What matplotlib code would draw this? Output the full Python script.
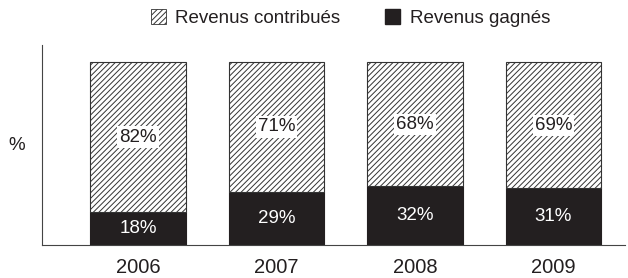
import matplotlib.pyplot as plt
import matplotlib.patches as mpatches
import numpy as np

plt.rcParams['font.family'] = ['Liberation Sans', 'DejaVu Sans']
plt.rcParams['hatch.linewidth'] = 0.7

years = ['2006', '2007', '2008', '2009']
gagnes = [18, 29, 32, 31]
contribues = [82, 71, 68, 69]
dark = '#231f20'

fig = plt.figure(figsize=(6.28, 2.78), dpi=100)
ax = fig.add_axes([0.067, 0.119, 0.928, 0.719])

x = np.arange(len(years))
w = 0.69
ax.bar(x, gagnes, w, color=dark, edgecolor=dark, linewidth=0.8)
ax.bar(x, contribues, w, bottom=gagnes, color='white', edgecolor='#333333',
       hatch='//////', linewidth=0.8)

for i in range(len(years)):
    ax.text(x[i], gagnes[i] / 2, '%d%%' % gagnes[i], ha='center', va='center',
            color='white', fontsize=13.5)
    ax.text(x[i], gagnes[i] + contribues[i] / 2, '%d%%' % contribues[i],
            ha='center', va='center', color='#231f20', fontsize=13.5,
            bbox=dict(facecolor='white', edgecolor='none', pad=1.5))

ax.set_xlim(-0.693, 3.516)
ax.set_ylim(0, 109.3)
ax.set_xticks(x)
ax.set_xticklabels(years, fontsize=14.5, color='#231f20')
ax.tick_params(axis='x', length=0, pad=9.5)
ax.set_yticks([])
ax.spines['right'].set_color('none')
ax.spines['top'].set_color('none')
ax.spines['left'].set_color('#444444')
ax.spines['bottom'].set_color('#444444')
fig.text(0.027, 0.478, '%', ha='center', va='center', fontsize=13.5, color='#231f20')

h1 = mpatches.Patch(facecolor='white', edgecolor='#333333', hatch='//////', linewidth=0.6)
h2 = mpatches.Patch(facecolor=dark, edgecolor=dark)
fig.legend([h1, h2], ['Revenus contribués', 'Revenus gagnés'], loc='center',
           bbox_to_anchor=(0.558, 0.935), ncol=2, frameon=False, fontsize=13.5,
           handlelength=0.8, handleheight=0.8, handletextpad=0.5, columnspacing=2.4,
           labelcolor='#231f20')

fig.savefig('out.png', dpi=100)
